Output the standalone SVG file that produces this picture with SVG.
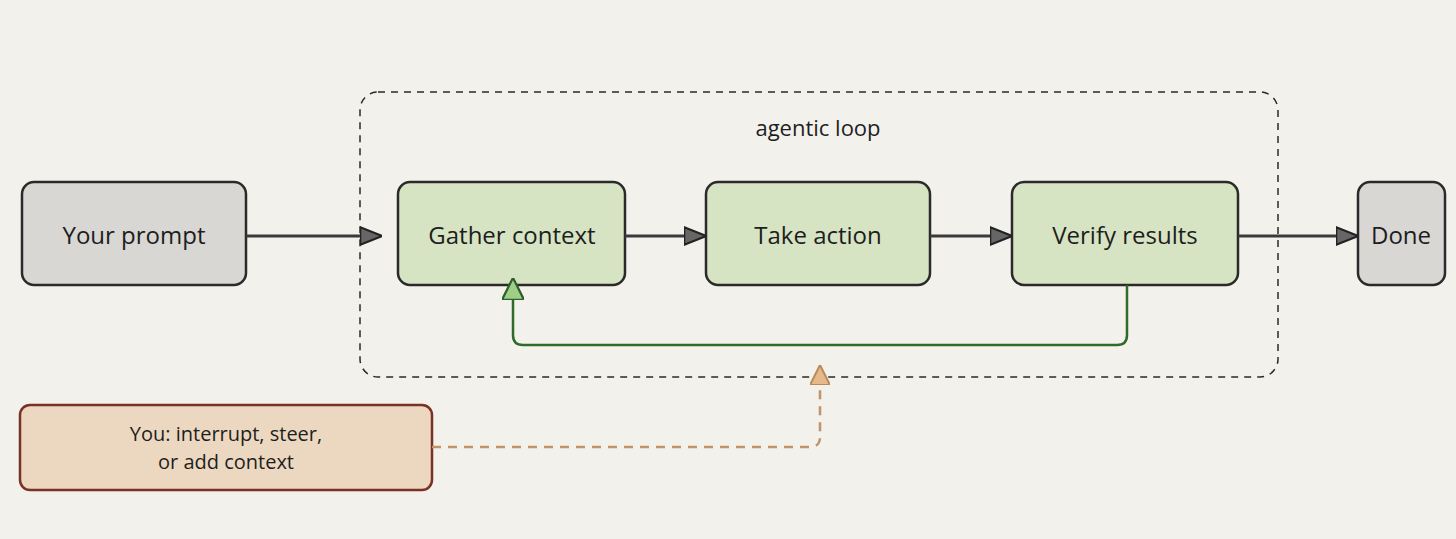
<svg xmlns="http://www.w3.org/2000/svg" width="1456" height="539" viewBox="0 0 1456 539">
<style>
text{font-family:"Open Sans","Liberation Sans",sans-serif;fill:#1e1e1e;text-anchor:middle}
.n{font-size:24px}
.g{fill:#d8d7d4;stroke:#2a2a2a;stroke-width:2.5}
.gr{fill:#d6e4c3;stroke:#2a2a2a;stroke-width:2.5}
.c{stroke:#3a3a3a;stroke-width:3;fill:none}
</style>
<defs>
<marker id="a" viewBox="0 0 10 10" refX="9" refY="5" orient="auto" markerWidth="22" markerHeight="22" markerUnits="userSpaceOnUse"><path d="M0,1 L10,5 L0,9 Z" fill="#666" stroke="#222"/></marker>
<marker id="ag" viewBox="0 0 10 10" refX="9" refY="5" orient="auto" markerWidth="22" markerHeight="22" markerUnits="userSpaceOnUse"><path d="M0,0 L10,5 L0,10 Z" fill="#9fcf86" stroke="#2f5e2a"/></marker>
<marker id="ao" viewBox="0 0 10 10" refX="9" refY="5" orient="auto" markerWidth="20" markerHeight="20" markerUnits="userSpaceOnUse"><path d="M0,0 L10,5 L0,10 Z" fill="#e5b98a" stroke="#b88a5e"/></marker>
</defs>
<rect width="1456" height="539" fill="#f3f1ec"/>
<g id="loop"><rect x="360" y="92" width="918" height="285" rx="18" fill="none" stroke="#2a2a2a" stroke-width="1.5" stroke-dasharray="7 6"/><text x="818" y="136" style="font-size:22px">agentic loop</text></g>
<g id="prompt"><rect class="g" x="22" y="182" width="224" height="103" rx="12"/><text class="n" x="134" y="244">Your prompt</text></g>
<g id="gather"><rect class="gr" x="398" y="182" width="227" height="103" rx="12"/><text class="n" x="512" y="244">Gather context</text></g>
<g id="take"><rect class="gr" x="706" y="182" width="224" height="103" rx="12"/><text class="n" x="818" y="244">Take action</text></g>
<g id="verify"><rect class="gr" x="1012" y="182" width="226" height="103" rx="12"/><text class="n" x="1125" y="244">Verify results</text></g>
<g id="done"><rect class="g" x="1358" y="182" width="87" height="103" rx="12"/><text class="n" x="1401" y="244">Done</text></g>
<g id="you"><rect x="20" y="405" width="412" height="85" rx="10" fill="#ecd7c0" stroke="#7a3226" stroke-width="2.5"/><text x="226" y="441" style="font-size:20px">You: interrupt, steer,</text><text x="226" y="469" style="font-size:20px">or add context</text></g>
<g id="connectors">
<path class="c" d="M246,236 H380" marker-end="url(#a)"/>
<path class="c" d="M625,236 H704" marker-end="url(#a)"/>
<path class="c" d="M930,236 H1010" marker-end="url(#a)"/>
<path class="c" d="M1238,236 H1356" marker-end="url(#a)"/>
<path d="M1127,285 V335 Q1127,345 1117,345 H523 Q513,345 513,335 V280" fill="none" stroke="#2f6a2a" stroke-width="2.5" marker-end="url(#ag)"/>
<path d="M432,447 H810 Q820,447 820,437 V367" fill="none" stroke="#c09468" stroke-width="2.5" stroke-dasharray="9 7" marker-end="url(#ao)"/>
</g>
</svg>
